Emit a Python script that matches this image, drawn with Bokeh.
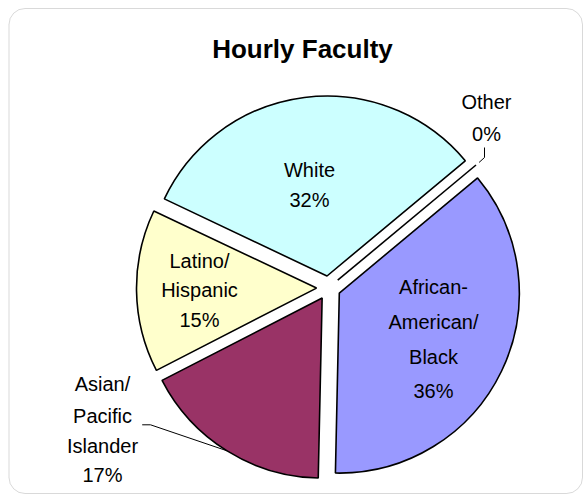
import math
from bokeh.plotting import figure
from bokeh.models import Range1d, BoxAnnotation, ColumnDataSource
from bokeh.core.properties import value
from bokeh.embed import file_html
from bokeh.resources import INLINE

# ---- data ----
title = "Hourly Faculty"
categories = ["African-American/Black", "Asian/Pacific Islander", "Latino/Hispanic", "White", "Other"]
percent = [36.4, 17.1, 14.6, 31.9, 0.0]
label_lines = [["African-", "American/", "Black"], ["Asian/", "Pacific", "Islander"],
               ["Latino/", "Hispanic"], ["White"], ["Other"]]
colors = ["#9999FF", "#993366", "#FFFFCC", "#CCFFFF", "#FFFFFF"]

# ---- layout (picture pixel coordinates, y measured downward) ----
W, H = 583, 495
def Y(py):
    return H - py

CX, CY = 328.0, 287.4
R = 180.0
EXPLODE = 12.0
START = 50.2  # degrees clockwise from 12 o'clock

label_x = [433, 102, 199, 309, 486]
label_baselines = [[286.7, 321.7, 356.7, 390.0],
                   [383.3, 415.0, 445.7, 474.3],
                   [260.7, 289.5, 319.5],
                   [169.3, 199.3],
                   [101.5, 133.5]]

FONT = value("Liberation Sans")

p = figure(width=W, height=H, x_range=Range1d(0, W), y_range=Range1d(0, H),
           output_backend="svg", toolbar_location=None, min_border=0,
           x_axis_location=None, y_axis_location=None,
           background_fill_color="white", border_fill_color="white",
           outline_line_color=None)
p.grid.visible = False

# rounded frame
p.add_layout(BoxAnnotation(left=8.5, right=582.0, top=Y(8.0), bottom=Y(493.0),
                           fill_color=None, line_color="#808080", line_width=1,
                           border_radius=16))

total = sum(percent)
cum = START
wx, wy, ws, we, wc = [], [], [], [], []
geo = []
for i, v in enumerate(percent):
    span = v / total * 360.0
    a0, a1 = cum, cum + span
    mid = (a0 + a1) / 2.0
    cum = a1
    ox = CX + EXPLODE * math.sin(math.radians(mid))
    oy = CY - EXPLODE * math.cos(math.radians(mid))
    geo.append((ox, oy, a0, a1, mid))
    if span > 0:
        wx.append(ox); wy.append(Y(oy))
        ws.append(math.radians(90 - a1)); we.append(math.radians(90 - a0))
        wc.append(colors[i])
    else:
        p.segment(x0=[ox], y0=[Y(oy)],
                  x1=[ox + R * math.sin(math.radians(a0))],
                  y1=[Y(oy - R * math.cos(math.radians(a0)))],
                  line_color="black", line_width=1.6)

src = ColumnDataSource(dict(x=wx, y=wy, s=ws, e=we, c=wc))
p.wedge(x="x", y="y", radius=R, start_angle="s", end_angle="e", direction="anticlock",
        fill_color="c", line_color="black", line_width=1.6, source=src)

# leader lines
ox, oy, a0, a1, mid = geo[1]
ax = ox + R * math.sin(math.radians(mid))
ay = oy - R * math.cos(math.radians(mid))
p.line(x=[141.7, 150.0, ax], y=[Y(424.3), Y(424.3), Y(ay)], line_color="black", line_width=1)

ox, oy, a0, a1, mid = geo[4]
bx = ox + (R + 4) * math.sin(math.radians(mid))
by = oy - (R + 4) * math.cos(math.radians(mid))
p.line(x=[bx, 484.0, 484.0], y=[Y(by), Y(157.0), Y(147.0)], line_color="black", line_width=1)

# labels
tx, ty, tt = [], [], []
for i, lines in enumerate(label_lines):
    texts = lines + [f"{round(percent[i])}%"]
    for t, b in zip(texts, label_baselines[i]):
        tx.append(label_x[i]); ty.append(Y(b)); tt.append(t)
p.text(x=tx, y=ty, text=tt, text_align="center", text_baseline="alphabetic",
       text_font=FONT, text_font_size="20px", text_color="black")

# title
p.text(x=[302], y=[Y(48.5)], text=[title], text_align="center", text_baseline="alphabetic",
       text_font=FONT, text_font_size="26px", text_font_style="bold", text_color="black")

open("out.html", "w").write(file_html(p, INLINE))
